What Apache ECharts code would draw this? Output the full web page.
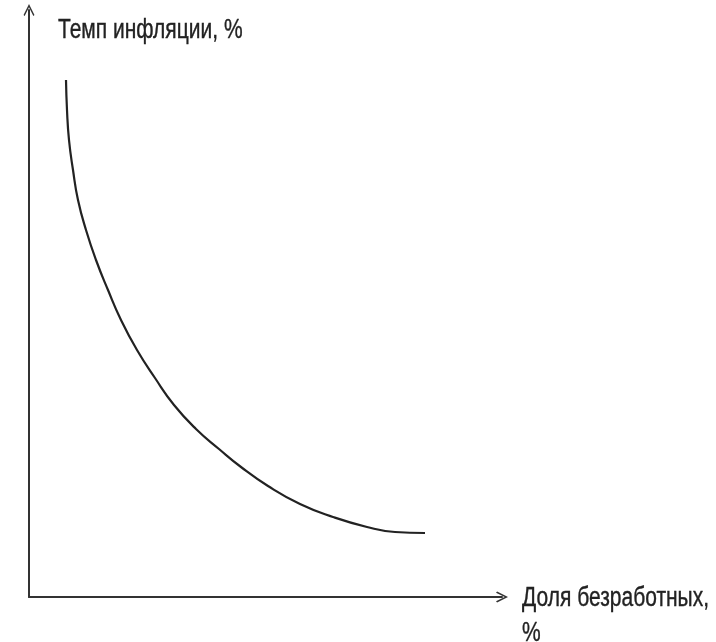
<!DOCTYPE html>
<html>
<head>
    <title>Кривая Филлипса</title>
    <meta charset="utf-8">
    <script src="https://cdn.jsdelivr.net/npm/echarts@6/dist/echarts.min.js"></script>
    <style>
        html, body { margin: 0; padding: 0; background: #fff; }
    </style>
</head>
<body>
    <div id="main" style="width: 716px;height:642px;"></div>

    <script type="text/javascript">
        // curve points (unemployment, inflation), arbitrary units
        var unemployment = [37, 38, 40, 44, 49, 57, 67, 79, 92, 108, 126, 145, 167, 190, 212, 239, 271, 304, 338, 366, 396];
        var inflation = [517, 487, 457, 427, 397, 367, 337, 307, 277, 247, 219, 192, 168, 148, 130, 111, 93, 80, 70, 65, 64];

        var xName = 'Доля безработных,\n%';
        var yName = 'Темп инфляции, %';

        var curve = [];
        for (var i = 0; i < unemployment.length; i++) {
            curve.push([unemployment[i], inflation[i]]);
        }

        var myChart = echarts.init(document.getElementById('main'));

        // open chevron arrow for the axis ends
        var chevron = 'path://M0,10 L5,0 L10,10 L9,11 L5,3 L1,11 Z';

        var axisLine = {
            show: true,
            lineStyle: { color: '#333', width: 2 },
            symbol: ['none', chevron],
            symbolSize: [11, 12]
        };

        var labelFont = '21px "Liberation Sans", Arial, sans-serif';

        var option = {
            animation: false,
            grid: { left: 29, right: 214, top: 10, bottom: 45 },
            xAxis: {
                type: 'value',
                min: 0,
                max: 473,
                axisLine: axisLine,
                axisTick: { show: false },
                axisLabel: { show: false },
                splitLine: { show: false }
            },
            yAxis: {
                type: 'value',
                min: 0,
                max: 587,
                axisLine: axisLine,
                axisTick: { show: false },
                axisLabel: { show: false },
                splitLine: { show: false }
            },
            graphic: [{
                type: 'text',
                x: 58,
                y: 16,
                scaleY: 1.33,
                style: {
                    text: yName,
                    fill: '#222',
                    stroke: '#222',
                    lineWidth: 0.3,
                    verticalAlign: 'top',
                    font: labelFont
                }
            }, {
                type: 'text',
                x: 522,
                y: 581,
                scaleY: 1.33,
                style: {
                    text: xName,
                    fill: '#222',
                    stroke: '#222',
                    lineWidth: 0.3,
                    verticalAlign: 'top',
                    lineHeight: 26,
                    font: labelFont
                }
            }],
            series: [{
                type: 'line',
                data: curve,
                smooth: 0.5,
                showSymbol: false,
                lineStyle: { color: '#222', width: 2.2 }
            }]
        };

        myChart.setOption(option);
    </script>
</body>
</html>
